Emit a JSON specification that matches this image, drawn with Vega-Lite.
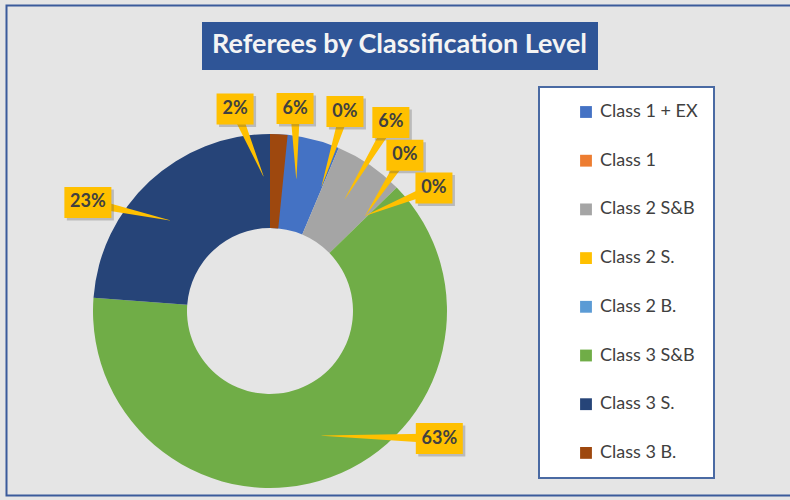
{
  "$schema": "https://vega.github.io/schema/vega-lite/v6.json",
  "width": 354,
  "height": 354,
  "autosize": {"type": "none"},
  "padding": {"left": 93, "top": 134, "right": 343, "bottom": 12},
  "background": "#e5e5e5",
  "config": {"view": {"stroke": null}, "legend": {"strokeWidth": 2}},
  "resolve": {"scale": {"color": "independent"}, "legend": {"color": "independent"}},
  "data": {
    "values": [
      {"cat": "Class 1 + EX", "count": 4},
      {"cat": "Class 1", "count": 0},
      {"cat": "Class 2 S&B", "count": 4},
      {"cat": "Class 2 S.", "count": 0},
      {"cat": "Class 2 B.", "count": 0},
      {"cat": "Class 3 S&B", "count": 40},
      {"cat": "Class 3 S.", "count": 15},
      {"cat": "Class 3 B.", "count": 1}
    ]
  },
  "transform": [
    {"window": [{"op": "sum", "field": "count", "as": "cum"}], "frame": [null, 0]},
    {"joinaggregate": [{"op": "sum", "field": "count", "as": "total"}]},
    {"calculate": "datum.cum - datum.count", "as": "start"},
    {"calculate": "datum.count / datum.total", "as": "share"},
    {"calculate": "datum.cat === 'Class 3 B.' ? -7.0 : datum.cat === 'Class 1 + EX' ? -4.2 : datum.cat === 'Class 1' ? -1.9 : datum.cat === 'Class 2 S&B' ? -1.1 : datum.cat === 'Class 2 S.' ? -4.1 : datum.cat === 'Class 2 B.' ? 8.1 : datum.cat === 'Class 3 S&B' ? -30.5 : datum.cat === 'Class 3 S.' ? -11.4 : 0", "as": "shiftDeg"},
    {"calculate": "datum.cat === 'Class 3 B.' ? 205 : datum.cat === 'Class 1 + EX' ? 204 : datum.cat === 'Class 1' ? 213 : datum.cat === 'Class 2 S&B' ? 224 : datum.cat === 'Class 2 S.' ? 206 : datum.cat === 'Class 2 B.' ? 205 : 212", "as": "labR"},
    {"calculate": "2 * PI * (datum.cum - datum.count / 2) / datum.total", "as": "midAng"},
    {"calculate": "datum.midAng + datum.shiftDeg * PI / 180", "as": "labAng"},
    {"calculate": "datum.labR * sin(datum.labAng)", "as": "lx"},
    {"calculate": "datum.labR * cos(datum.labAng)", "as": "ly"},
    {"calculate": "135 * sin(datum.midAng)", "as": "tx"},
    {"calculate": "135 * cos(datum.midAng)", "as": "ty"},
    {"calculate": "datum.share >= 0.095 ? 23.5 : 18.5", "as": "hw"},
    {"calculate": "datum.lx - datum.hw", "as": "bx0"},
    {"calculate": "datum.lx + datum.hw", "as": "bx1"},
    {"calculate": "datum.ly - 15.5", "as": "by0"},
    {"calculate": "datum.ly + 15.5", "as": "by1"}
  ],
  "layer": [
    {
      "mark": {"type": "arc", "radius": 177, "radius2": 83},
      "encoding": {
        "theta": {"field": "start", "type": "quantitative", "stack": null, "scale": {"nice": false, "zero": true}},
        "theta2": {"field": "cum"},
        "color": {
          "field": "cat",
          "type": "nominal",
          "sort": null,
          "scale": {
            "domain": ["Class 1 + EX", "Class 1", "Class 2 S&B", "Class 2 S.", "Class 2 B.", "Class 3 S&B", "Class 3 S.", "Class 3 B."],
            "range": ["#4472C4", "#ED7D31", "#A5A5A5", "#FFC000", "#5B9BD5", "#70AD47", "#264478", "#9E480E"]
          },
          "legend": {
            "orient": "none",
            "legendX": 446,
            "legendY": -47,
            "title": null,
            "fillColor": "#ffffff",
            "strokeColor": "#4a6aa3",
            "padding": 16,
            "rowPadding": 30.7,
            "symbolType": "square",
            "symbolSize": 140,
            "symbolStrokeWidth": 0,
            "symbolOffset": 22,
            "labelFont": "Lato",
            "labelFontSize": 18,
            "labelColor": "#404040",
            "labelOffset": 5,
            "labelLimit": 300
          }
        }
      }
    },
    {
      "transform": [
        {"calculate": "0", "as": "tipEnd"},
        {"calculate": "1", "as": "boxEnd"},
        {"fold": ["tipEnd", "boxEnd"], "as": ["end", "w"]},
        {"calculate": "datum.w == 0 ? datum.tx : datum.lx", "as": "px"},
        {"calculate": "datum.w == 0 ? datum.ty : datum.ly", "as": "py"}
      ],
      "mark": {"type": "trail"},
      "encoding": {
        "x": {"field": "px", "type": "quantitative", "axis": null, "scale": {"domain": [-177, 177], "nice": false, "zero": false}},
        "y": {"field": "py", "type": "quantitative", "axis": null, "scale": {"domain": [-177, 177], "nice": false, "zero": false}},
        "detail": {"field": "cat", "type": "nominal"},
        "order": {"field": "w", "type": "quantitative"},
        "size": {"field": "w", "type": "quantitative", "scale": {"range": [0.3, 10]}, "legend": null},
        "color": {
          "datum": "leader",
          "type": "nominal",
          "scale": {"range": ["#FFC000"]},
          "legend": {
            "orient": "none",
            "legendX": -86.5,
            "legendY": -128.5,
            "title": null,
            "strokeColor": "#3b5b9b",
            "padding": 20,
            "labelExpr": "''",
            "labelFontSize": 1,
            "labelOffset": 0,
            "rowPadding": 0,
            "symbolType": "square",
            "symbolSize": 202500,
            "symbolOffset": 312,
            "symbolOpacity": 0,
            "symbolStrokeWidth": 0
          }
        }
      }
    },
    {
      "mark": {"type": "rect", "opacity": 0.3, "xOffset": 2.5, "x2Offset": 2.5, "yOffset": 2.5, "y2Offset": 2.5},
      "encoding": {
        "x": {"field": "bx0", "type": "quantitative"},
        "x2": {"field": "bx1"},
        "y": {"field": "by0", "type": "quantitative"},
        "y2": {"field": "by1"},
        "color": {
          "datum": "shadow",
          "type": "nominal",
          "scale": {"range": ["#555555"]},
          "legend": {
            "orient": "none",
            "legendX": 110,
            "legendY": -111,
            "title": "Referees by Classification Level",
            "fillColor": "#2F5597",
            "strokeColor": "#2F5597",
            "padding": 9,
            "titleColor": "#f4f4f4",
            "titleFont": "Lato",
            "titleFontSize": 27,
            "titleFontWeight": "bold",
            "titleBaseline": "top",
            "titleLimit": 1000,
            "titlePadding": 0,
            "labelExpr": "''",
            "labelFontSize": 1,
            "labelOffset": 0,
            "rowPadding": 0,
            "symbolSize": 0,
            "symbolOpacity": 0,
            "symbolStrokeWidth": 0
          }
        }
      }
    },
    {
      "mark": {"type": "rect", "color": "#FFC000"},
      "encoding": {
        "x": {"field": "bx0", "type": "quantitative"},
        "x2": {"field": "bx1"},
        "y": {"field": "by0", "type": "quantitative"},
        "y2": {"field": "by1"}
      }
    },
    {
      "mark": {"type": "text", "font": "Lato", "fontSize": 18, "fontWeight": "bold", "color": "#404040", "baseline": "middle", "align": "center"},
      "encoding": {
        "x": {"field": "lx", "type": "quantitative"},
        "y": {"field": "ly", "type": "quantitative"},
        "text": {"field": "share", "type": "quantitative", "format": ".0%"}
      }
    }
  ]
}
